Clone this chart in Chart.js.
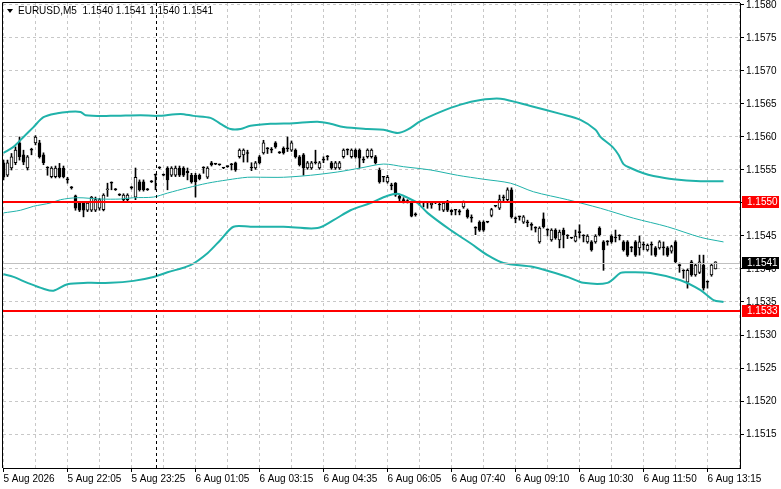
<!DOCTYPE html>
<html>
<head>
<meta charset="utf-8">
<script src="https://cdn.jsdelivr.net/npm/chart.js@4.4.1/dist/chart.umd.min.js"></script>
<style>
  html, body { margin: 0; padding: 0; background: #fff; }
  #wrap { position: relative; width: 781px; height: 489px; }
</style>
</head>
<body>
<div id="wrap"><canvas id="chart" width="781" height="489"></canvas></div>
<script>
// EURUSD M5, one candle per index
const chartTitle = 'EURUSD,M5  1.1540 1.1541 1.1540 1.1541';

// bottom axis labels, one every 16 bars starting at bar 0
const timeLabels = ['5 Aug 2026', '5 Aug 22:05', '5 Aug 23:25', '6 Aug 01:05', '6 Aug 03:15', '6 Aug 04:35',
  '6 Aug 06:05', '6 Aug 07:40', '6 Aug 09:10', '6 Aug 10:30', '6 Aug 11:50', '6 Aug 13:15'];

const opens = [
  1.15561,1.15542,1.15553,1.15561,1.15591,1.15573,1.15553,1.15580,1.15591,1.15591,
  1.15573,1.15553,1.15540,1.15540,1.15553,1.15553,1.15535,1.15523,1.15511,1.15500,
  1.15500,1.15489,1.15489,1.15489,1.15492,1.15490,1.15520,1.15530,1.15520,1.15512,
  1.15505,1.15505,1.15523,1.15509,1.15532,1.15532,1.15520,1.15532,1.15542,1.15553,
  1.15542,1.15553,1.15542,1.15542,1.15553,1.15553,1.15548,1.15542,1.15542,1.15542,
  1.15553,1.15539,1.15561,1.15559,1.15558,1.15553,1.15555,1.15558,1.15561,1.15570,
  1.15573,1.15575,1.15553,1.15553,1.15570,1.15576,1.15582,1.15580,1.15591,1.15576,
  1.15583,1.15582,1.15580,1.15580,1.15570,1.15573,1.15553,1.15553,1.15561,1.15553,
  1.15565,1.15570,1.15561,1.15553,1.15553,1.15570,1.15580,1.15570,1.15580,1.15580,
  1.15565,1.15570,1.15570,1.15570,1.15550,1.15539,1.15532,1.15527,1.15530,1.15510,
  1.15505,1.15502,1.15500,1.15482,1.15500,1.15500,1.15500,1.15497,1.15500,1.15497,
  1.15489,1.15502,1.15489,1.15489,1.15488,1.15494,1.15489,1.15477,1.15462,1.15471,
  1.15471,1.15471,1.15481,1.15495,1.15492,1.15508,1.15505,1.15520,1.15476,1.15479,
  1.15471,1.15470,1.15466,1.15462,1.15441,1.15476,1.15459,1.15444,1.15459,1.15444,
  1.15459,1.15450,1.15447,1.15442,1.15455,1.15450,1.15441,1.15441,1.15441,1.15462,
  1.15441,1.15441,1.15450,1.15447,1.15450,1.15441,1.15441,1.15432,1.15441,1.15432,
  1.15436,1.15429,1.15436,1.15432,1.15432,1.15432,1.15432,1.15427,1.15441,1.15405,
  1.15397,1.15380,1.15411,1.15391,1.15395,1.15406,1.15380,1.15391,1.15400
];
const highs = [
  1.15565,1.15565,1.15575,1.15585,1.15600,1.15580,1.15572,1.15583,1.15602,1.15595,
  1.15576,1.15555,1.15555,1.15556,1.15560,1.15556,1.15539,1.15525,1.15512,1.15502,
  1.15502,1.15502,1.15510,1.15509,1.15507,1.15514,1.15530,1.15532,1.15522,1.15514,
  1.15514,1.15514,1.15525,1.15553,1.15535,1.15535,1.15522,1.15534,1.15544,1.15555,
  1.15544,1.15555,1.15555,1.15556,1.15556,1.15555,1.15553,1.15545,1.15545,1.15544,
  1.15555,1.15555,1.15563,1.15560,1.15559,1.15554,1.15556,1.15560,1.15562,1.15582,
  1.15582,1.15580,1.15561,1.15563,1.15572,1.15595,1.15584,1.15584,1.15593,1.15578,
  1.15585,1.15600,1.15594,1.15582,1.15572,1.15575,1.15563,1.15563,1.15580,1.15563,
  1.15570,1.15572,1.15563,1.15563,1.15563,1.15582,1.15582,1.15582,1.15582,1.15582,
  1.15570,1.15582,1.15582,1.15572,1.15553,1.15540,1.15542,1.15530,1.15531,1.15512,
  1.15508,1.15505,1.15502,1.15485,1.15503,1.15502,1.15502,1.15502,1.15501,1.15500,
  1.15502,1.15504,1.15490,1.15490,1.15490,1.15503,1.15491,1.15482,1.15464,1.15473,
  1.15473,1.15472,1.15492,1.15496,1.15512,1.15512,1.15523,1.15523,1.15479,1.15480,
  1.15481,1.15474,1.15470,1.15464,1.15464,1.15485,1.15461,1.15461,1.15461,1.15459,
  1.15462,1.15452,1.15448,1.15459,1.15467,1.15452,1.15452,1.15443,1.15452,1.15464,
  1.15443,1.15443,1.15452,1.15459,1.15452,1.15443,1.15443,1.15434,1.15443,1.15450,
  1.15441,1.15438,1.15441,1.15434,1.15443,1.15441,1.15434,1.15436,1.15443,1.15409,
  1.15399,1.15400,1.15413,1.15408,1.15421,1.15421,1.15382,1.15408,1.15411
];
const lows = [
  1.15535,1.15540,1.15550,1.15558,1.15565,1.15558,1.15550,1.15573,1.15588,1.15568,
  1.15558,1.15542,1.15538,1.15538,1.15538,1.15538,1.15530,1.15521,1.15489,1.15487,
  1.15479,1.15487,1.15487,1.15487,1.15489,1.15488,1.15510,1.15520,1.15519,1.15511,
  1.15503,1.15503,1.15521,1.15505,1.15518,1.15518,1.15519,1.15531,1.15520,1.15552,
  1.15541,1.15520,1.15540,1.15540,1.15540,1.15540,1.15535,1.15530,1.15509,1.15535,
  1.15545,1.15537,1.15556,1.15558,1.15557,1.15552,1.15554,1.15550,1.15548,1.15568,
  1.15562,1.15562,1.15549,1.15551,1.15559,1.15574,1.15575,1.15576,1.15583,1.15575,
  1.15574,1.15578,1.15578,1.15568,1.15556,1.15542,1.15551,1.15551,1.15559,1.15551,
  1.15561,1.15565,1.15551,1.15551,1.15551,1.15568,1.15573,1.15568,1.15568,1.15553,
  1.15561,1.15568,1.15568,1.15559,1.15530,1.15532,1.15530,1.15520,1.15510,1.15503,
  1.15500,1.15500,1.15479,1.15480,1.15497,1.15494,1.15492,1.15492,1.15499,1.15489,
  1.15487,1.15487,1.15482,1.15482,1.15482,1.15492,1.15477,1.15471,1.15452,1.15457,
  1.15457,1.15470,1.15479,1.15494,1.15490,1.15503,1.15503,1.15477,1.15470,1.15474,
  1.15469,1.15464,1.15459,1.15456,1.15439,1.15462,1.15450,1.15442,1.15445,1.15432,
  1.15432,1.15446,1.15446,1.15441,1.15447,1.15441,1.15439,1.15427,1.15439,1.15450,
  1.15398,1.15436,1.15439,1.15441,1.15444,1.15427,1.15419,1.15426,1.15419,1.15421,
  1.15429,1.15427,1.15421,1.15419,1.15430,1.15421,1.15419,1.15424,1.15409,1.15395,
  1.15386,1.15371,1.15389,1.15389,1.15393,1.15368,1.15371,1.15389,1.15400
];
const closes = [
  1.15539,1.15561,1.15570,1.15580,1.15570,1.15562,1.15570,1.15580,1.15600,1.15570,
  1.15561,1.15553,1.15553,1.15553,1.15540,1.15540,1.15535,1.15523,1.15492,1.15489,
  1.15489,1.15500,1.15509,1.15505,1.15505,1.15512,1.15521,1.15530,1.15520,1.15512,
  1.15512,1.15512,1.15523,1.15539,1.15520,1.15520,1.15520,1.15532,1.15542,1.15553,
  1.15542,1.15535,1.15553,1.15553,1.15542,1.15542,1.15546,1.15532,1.15532,1.15537,
  1.15553,1.15553,1.15558,1.15559,1.15558,1.15553,1.15555,1.15558,1.15550,1.15580,
  1.15580,1.15575,1.15553,1.15561,1.15561,1.15591,1.15582,1.15580,1.15585,1.15576,
  1.15576,1.15582,1.15591,1.15570,1.15558,1.15553,1.15561,1.15561,1.15561,1.15561,
  1.15565,1.15570,1.15553,1.15561,1.15561,1.15580,1.15580,1.15580,1.15570,1.15568,
  1.15565,1.15580,1.15580,1.15561,1.15532,1.15539,1.15539,1.15526,1.15512,1.15507,
  1.15503,1.15502,1.15480,1.15482,1.15500,1.15500,1.15500,1.15500,1.15500,1.15497,
  1.15500,1.15489,1.15487,1.15489,1.15486,1.15502,1.15479,1.15477,1.15462,1.15459,
  1.15459,1.15471,1.15490,1.15495,1.15505,1.15508,1.15520,1.15479,1.15476,1.15479,
  1.15479,1.15470,1.15466,1.15462,1.15462,1.15464,1.15459,1.15459,1.15447,1.15456,
  1.15452,1.15450,1.15447,1.15450,1.15455,1.15450,1.15450,1.15429,1.15450,1.15452,
  1.15429,1.15441,1.15441,1.15447,1.15450,1.15429,1.15421,1.15432,1.15421,1.15441,
  1.15436,1.15436,1.15436,1.15421,1.15441,1.15432,1.15421,1.15434,1.15411,1.15405,
  1.15397,1.15398,1.15391,1.15406,1.15411,1.15371,1.15380,1.15406,1.15411
];

// Bollinger bands, [bar index, price]
const upperBand = [
  [0,1.15576],[2.5,1.15585],[5,1.15600],[7.5,1.15615],[10,1.15630],[13.5,1.15636],[16,1.15638],
  [19.25,1.15638],[20.5,1.15633],[26.75,1.15632],[34.25,1.15633],[38.5,1.15632],[44.25,1.15635],
  [47.5,1.15632],[51.75,1.15629],[54.25,1.15620],[56.75,1.15612],[59.25,1.15612],[61.75,1.15617],
  [66.75,1.15620],[72.5,1.15621],[78.5,1.15623],[81.75,1.15620],[85,1.15615],[91,1.15612],
  [95,1.15611],[98.5,1.15606],[101,1.15611],[104.25,1.15624],[109.25,1.15638],[114.25,1.15649],
  [119.25,1.15656],[124.25,1.15658],[131.75,1.15647],[139.25,1.15635],[144.25,1.15626],
  [148,1.15611],[149.25,1.15600],[152.25,1.15585],[153.75,1.15573],[155,1.15559],[156.75,1.15553],
  [160,1.15545],[162.5,1.15541],[167.5,1.15536],[174.25,1.15533],[180,1.15533]
];
const middleBand = [
  [0,1.15485],[4.25,1.15489],[7.5,1.15495],[11.75,1.15500],[14.25,1.15505],[18.5,1.15508],
  [24.25,1.15506],[29.25,1.15506],[32.5,1.15508],[37.5,1.15509],[41,1.15515],[46,1.15523],
  [51,1.15530],[56,1.15535],[61,1.15539],[64.25,1.15539],[70,1.15539],[76.75,1.15542],
  [83.5,1.15547],[89.25,1.15553],[95,1.15559],[100,1.15555],[106.75,1.15550],[113.5,1.15542],
  [120,1.15536],[126.75,1.15530],[132.5,1.15517],[141,1.15505],[149.25,1.15492],[157.5,1.15477],
  [166,1.15464],[174.25,1.15448],[180,1.15441]
];
const lowerBand = [
  [0,1.15392],[2.5,1.15388],[6,1.15379],[10,1.15370],[12.5,1.15367],[16,1.15377],[21,1.15379],
  [26.75,1.15379],[32.5,1.15382],[37.5,1.15388],[41,1.15395],[46.75,1.15406],[51,1.15424],
  [54.25,1.15444],[57.5,1.15464],[61.75,1.15464],[70,1.15464],[78.5,1.15462],[82.5,1.15474],
  [86.75,1.15489],[91.75,1.15500],[96,1.15511],[98.5,1.15514],[101,1.15508],[103.5,1.15500],
  [106,1.15485],[111.75,1.15459],[116.75,1.15439],[121,1.15421],[125,1.15409],[132.5,1.15403],
  [141,1.15388],[145,1.15379],[151,1.15379],[154.25,1.15394],[156,1.15395],[161.75,1.15394],
  [169.25,1.15383],[174.25,1.15368],[177.5,1.15353],[180,1.15350]
];

// horizontal levels and markers
const redLevels = [1.15502, 1.15336];
const redLevelTags = ['1.1550', '1.1533'];
const bidLevel = 1.15409;
const bidTag = '1.1541';
const cursorBar = 38;
const lowestPriceTick = 1.1515;

const bodyData = opens.map((o, i) => ({ x: i, y: [o, closes[i]] }));
const wickData = lows.map((l, i) => ({ x: i, y: [l, highs[i]] }));
const bodyColors = opens.map((o, i) => closes[i] > o ? '#ffffff' : '#000000');
const toPts = band => band.map(p => ({ x: p[0], y: p[1] }));

const AXIS_FONT = { family: 'Liberation Sans', size: 10 };
const TEAL = '#20b2aa';
const GRID = '#c8c8c8';
const shownPrice = v => v >= lowestPriceTick - 0.00001;

const overlayPlugin = {
  id: 'mtOverlay',
  afterDatasetsDraw(chart) {
    const { ctx, chartArea: a, scales: { x, y } } = chart;
    ctx.save();
    ctx.beginPath();
    ctx.rect(a.left, a.top, a.right - a.left, a.bottom - a.top);
    ctx.clip();
    // bid line
    const py = Math.round(y.getPixelForValue(bidLevel)) + 0.5;
    ctx.strokeStyle = '#c0c0c0';
    ctx.lineWidth = 1;
    ctx.beginPath(); ctx.moveTo(a.left, py); ctx.lineTo(a.right, py); ctx.stroke();
    // cursor line
    const px = Math.round(x.getPixelForValue(cursorBar)) + 0.5;
    ctx.strokeStyle = '#000';
    ctx.setLineDash([3, 3]);
    ctx.beginPath(); ctx.moveTo(px, a.top); ctx.lineTo(px, a.bottom); ctx.stroke();
    ctx.setLineDash([]);
    // red levels
    ctx.strokeStyle = '#ff0000';
    ctx.lineWidth = 2;
    redLevels.forEach(v => {
      const ly = Math.round(y.getPixelForValue(v));
      ctx.beginPath(); ctx.moveTo(a.left, ly); ctx.lineTo(a.right, ly); ctx.stroke();
    });
    ctx.restore();
  },
  afterDraw(chart) {
    const { ctx, chartArea: a, scales: { y } } = chart;
    ctx.save();
    // frame on the left and top
    ctx.strokeStyle = '#000';
    ctx.lineWidth = 1;
    ctx.beginPath();
    ctx.moveTo(a.left - 0.5, a.bottom); ctx.lineTo(a.left - 0.5, a.top - 0.5); ctx.lineTo(a.right, a.top - 0.5);
    ctx.stroke();
    // price tags
    ctx.font = '10px "Liberation Sans"';
    ctx.textBaseline = 'middle';
    const tag = (v, text, bg) => {
      const ty = Math.round(y.getPixelForValue(v));
      ctx.fillStyle = bg;
      ctx.fillRect(a.right + 2, ty - 6, 37, 12);
      ctx.fillStyle = '#fff';
      ctx.fillText(text, a.right + 7, ty + 0.5);
    };
    redLevels.forEach((v, i) => tag(v, redLevelTags[i], '#ff0000'));
    tag(bidLevel, bidTag, '#000000');
    // title
    ctx.fillStyle = '#000';
    ctx.beginPath(); ctx.moveTo(7, 9); ctx.lineTo(13, 9); ctx.lineTo(10, 13); ctx.closePath(); ctx.fill();
    ctx.font = '10px "Liberation Sans"';
    ctx.fillText(chartTitle, 18, 11);
    ctx.restore();
  }
};

new Chart(document.getElementById('chart'), {
  type: 'bar',
  data: {
    datasets: [
      { type: 'line', data: toPts(upperBand), borderColor: TEAL, borderWidth: 2, pointRadius: 0, tension: 0.3, order: 0 },
      { type: 'line', data: toPts(middleBand), borderColor: TEAL, borderWidth: 1, pointRadius: 0, tension: 0.3, order: 0 },
      { type: 'line', data: toPts(lowerBand), borderColor: TEAL, borderWidth: 2, pointRadius: 0, tension: 0.3, order: 0 },
      { data: bodyData, backgroundColor: bodyColors, borderColor: '#000', borderWidth: 1, borderSkipped: false,
        barThickness: 3, minBarLength: 1, grouped: false, order: 1 },
      { data: wickData, backgroundColor: '#000', borderWidth: 0, barThickness: 1, grouped: false, order: 2 }
    ]
  },
  options: {
    responsive: false,
    devicePixelRatio: 1,
    animation: false,
    events: [],
    layout: { padding: { left: 3, top: 3, right: 0, bottom: 0 } },
    plugins: { legend: { display: false }, tooltip: { enabled: false } },
    scales: {
      x: {
        type: 'linear',
        offset: false,
        min: -0.125,
        max: 184.125,
        grid: {
          offset: false,
          color: GRID,
          tickLength: 4,
          tickColor: c => (c.tick && c.tick.value % 16 === 0) ? '#000' : 'rgba(0,0,0,0)'
        },
        border: { display: true, color: '#000', width: 1, dash: [3, 3] },
        ticks: {
          stepSize: 8,
          autoSkip: false,
          includeBounds: false,
          maxRotation: 0,
          align: 'start',
          padding: 1,
          color: '#000',
          font: AXIS_FONT,
          callback: v => (v % 16 === 0 && v >= 0) ? (timeLabels[v / 16] || '') : ''
        },
        afterFit: s => { s.height = 21; s.paddingLeft = 0; s.paddingRight = 0; }
      },
      y: {
        position: 'right',
        min: 1.150985,
        max: 1.15803,
        grid: {
          color: c => (c.tick && shownPrice(c.tick.value)) ? GRID : 'rgba(0,0,0,0)',
          tickLength: 4,
          tickColor: c => (c.tick && shownPrice(c.tick.value)) ? '#000' : 'rgba(0,0,0,0)'
        },
        border: { display: true, color: '#000', width: 1, dash: [3, 3] },
        ticks: {
          stepSize: 0.0005,
          includeBounds: false,
          padding: 2,
          color: '#000',
          font: AXIS_FONT,
          callback: v => shownPrice(v) ? v.toFixed(4) : ''
        },
        afterFit: s => { s.width = 41; s.paddingTop = 0; s.paddingBottom = 0; }
      }
    }
  },
  plugins: [overlayPlugin]
});
</script>
</body>
</html>
